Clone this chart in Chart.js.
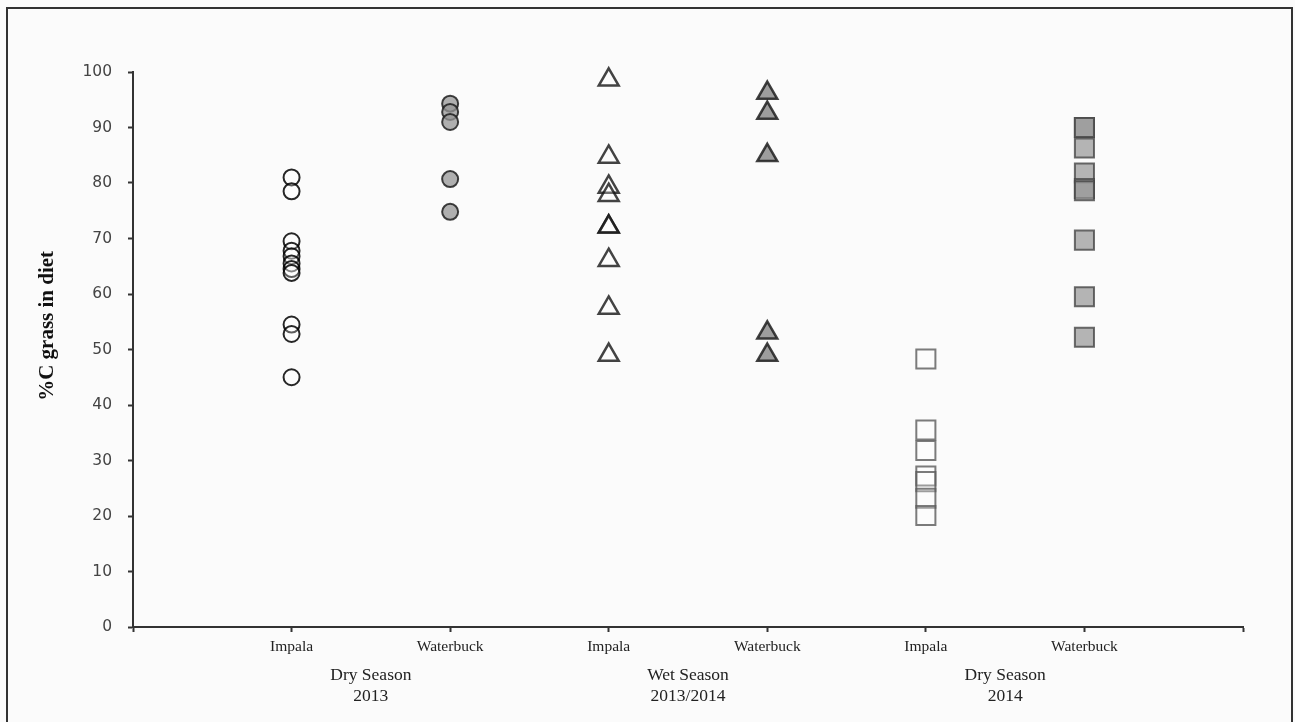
<!DOCTYPE html>
<html>
<head>
<meta charset="utf-8">
<script src="https://cdn.jsdelivr.net/npm/chart.js@4.4.1/dist/chart.umd.min.js"></script>
<style>
  html, body { margin: 0; padding: 0; background: #fbfbfb; }
  #wrap { position: relative; width: 1295px; height: 722px; }
  #frame { position: absolute; left: 6px; top: 7px; width: 1283px; height: 730px;
           border: 2px solid #333; pointer-events: none; }
</style>
</head>
<body>
<div id="wrap">
  <canvas id="grassChart" width="1295" height="722"></canvas>
  <div id="frame"></div>
</div>
<script>
// animal labels under each column, and the season groups below them
const animals = ["Impala", "Waterbuck", "Impala", "Waterbuck", "Impala", "Waterbuck"];
const seasons = [["Dry Season", "2013"], ["Wet Season", "2013/2014"], ["Dry Season", "2014"]];
const seasonTicks = [1.5, 3.5, 5.5];
const yTicks = [0, 10, 20, 30, 40, 50, 60, 70, 80, 90, 100];

// %C grass in diet
const dryImpala2013 = [81, 78.5, 69.5, 67.8, 66.8, 65.5, 64.5, 63.8, 54.5, 52.8, 45];
const dryWaterbuck2013 = [94.3, 92.8, 91, 80.7, 74.8];
const wetImpala = [98.6, 84.7, 79.3, 77.8, 72.1, 72.1, 66.1, 57.5, 49];
const wetWaterbuck = [96.2, 92.6, 85, 53, 49];
const dryImpala2014 = [48.3, 35.5, 31.8, 27.2, 26.2, 23.2, 20.1];
const dryWaterbuck2014 = [90, 90, 86.3, 81.8, 79, 78.6, 69.7, 59.5, 52.2];

function column(values, pos) {
    return values.map(v => ({ x: pos, y: v }));
}

const datasets = [
    { data: column(dryImpala2013, 1), pointStyle: 'circle', pointRadius: 8, borderWidth: 2,
      backgroundColor: 'rgba(255,255,255,0.25)', borderColor: 'rgba(0,0,0,0.85)' },
    { data: column(dryWaterbuck2013, 2), pointStyle: 'circle', pointRadius: 8, borderWidth: 2,
      backgroundColor: 'rgba(150,150,150,0.75)', borderColor: 'rgba(30,30,30,0.85)' },
    { data: column(wetImpala, 3), pointStyle: 'triangle', pointRadius: 11.5, borderWidth: 2.5,
      backgroundColor: 'rgba(255,255,255,0.25)', borderColor: 'rgba(20,20,20,0.8)' },
    { data: column(wetWaterbuck, 4), pointStyle: 'triangle', pointRadius: 11.5, borderWidth: 2.5,
      backgroundColor: 'rgba(140,140,140,0.85)', borderColor: 'rgba(30,30,30,0.85)' },
    { data: column(dryImpala2014, 5), pointStyle: 'rect', pointRadius: 13.5, borderWidth: 2,
      backgroundColor: 'rgba(255,255,255,0.25)', borderColor: 'rgba(90,90,90,0.8)' },
    { data: column(dryWaterbuck2014, 6), pointStyle: 'rect', pointRadius: 13.5, borderWidth: 2,
      backgroundColor: 'rgba(150,150,150,0.7)', borderColor: 'rgba(70,70,70,0.8)' }
];
datasets.forEach(ds => { ds.showLine = false; ds.clip = false; });

const ctx = document.getElementById('grassChart').getContext('2d');
new Chart(ctx, {
    type: 'scatter',
    data: { datasets: datasets },
    options: {
        responsive: false,
        animation: false,
        layout: { padding: { left: 0, top: 72, right: 52, bottom: 0 } },
        plugins: { legend: { display: false }, tooltip: { enabled: false } },
        scales: {
            x: {
                type: 'linear', min: 0, max: 7, weight: 0,
                afterBuildTicks: scale => { scale.ticks = [0, 1, 2, 3, 4, 5, 6, 7].map(v => ({ value: v })); },
                afterFit: scale => { scale.height = 33; },
                grid: { drawOnChartArea: false, drawTicks: true, tickLength: 5, tickColor: '#333', tickWidth: 2 },
                border: { color: '#333', width: 2 },
                ticks: {
                    padding: 6, maxRotation: 0, autoSkip: false,
                    color: '#222', font: { family: 'Liberation Serif', size: 15.5 },
                    callback: v => animals[v - 1] || ''
                }
            },
            x2: {
                type: 'linear', min: 0, max: 7, position: 'bottom', weight: 1,
                afterBuildTicks: scale => { scale.ticks = seasonTicks.map(v => ({ value: v })); },
                afterFit: scale => { scale.height = 62; },
                grid: { display: false, drawTicks: false },
                border: { display: false },
                ticks: {
                    padding: 5, maxRotation: 0, autoSkip: false,
                    color: '#222', font: { family: 'Liberation Serif', size: 17.5, lineHeight: 1.2 },
                    callback: v => seasons[seasonTicks.indexOf(v)]
                }
            },
            y: {
                min: 0, max: 100,
                afterBuildTicks: scale => { scale.ticks = yTicks.map(v => ({ value: v })); },
                afterFit: scale => { scale.width = 133; },
                grid: { drawOnChartArea: false, drawTicks: true, tickLength: 5, tickColor: '#333', tickWidth: 2 },
                border: { color: '#333', width: 2 },
                ticks: { padding: 16, color: '#444', font: { family: 'DejaVu Sans', size: 15.5 } },
                title: {
                    display: true,
                    // leading no-break spaces lift the label a little, as in the original
                    text: '\u00A0'.repeat(9) + '%C grass in diet',
                    color: '#111',
                    font: { family: 'Liberation Serif', size: 21, weight: 'bold' },
                    padding: { top: 35, bottom: 0 }
                }
            }
        }
    }
});
</script>
</body>
</html>
